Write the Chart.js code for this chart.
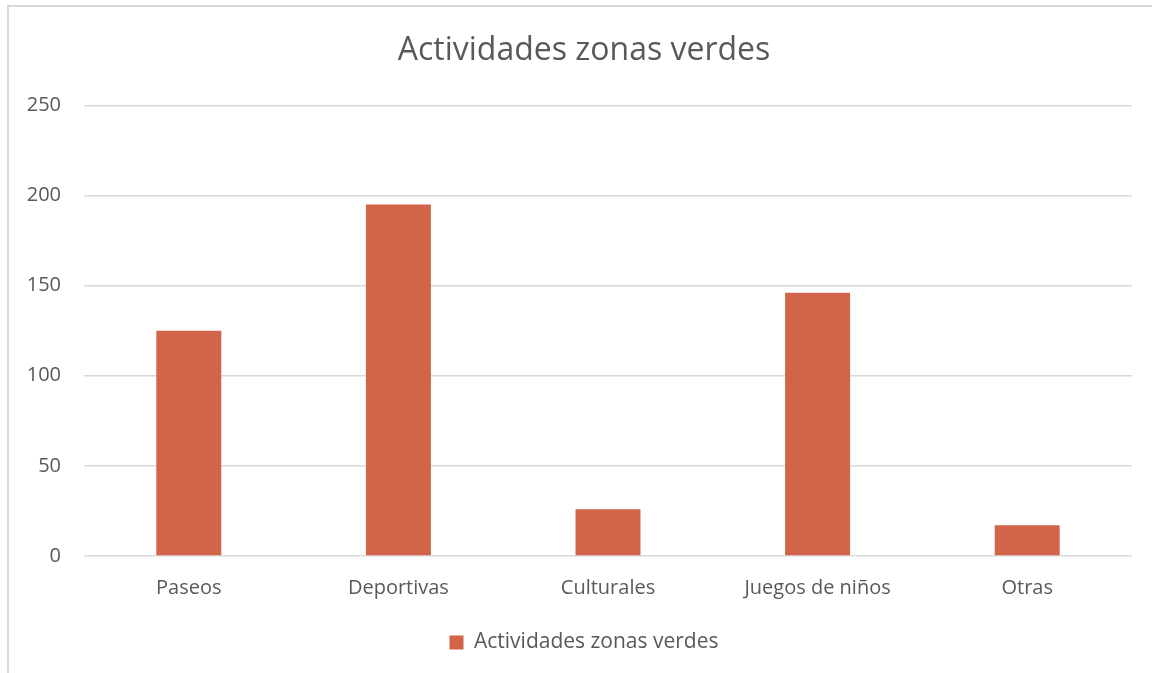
<!DOCTYPE html>
<html>
<head>
<meta charset="utf-8">
<script src="https://cdn.jsdelivr.net/npm/chart.js@4/dist/chart.umd.min.js"></script>
<style>
    html, body { margin: 0; padding: 0; background: #fff; overflow: hidden; }
    #frame {
        position: absolute; left: 7px; top: 5px;
        width: 1160px; height: 680px;
        border: 2px solid #d9d9d9; box-sizing: border-box;
    }
    #wrap { position: absolute; left: 2px; top: 2px; width: 1146px; height: 666px; }
</style>
</head>
<body>
<div id="frame"><div id="wrap"><canvas id="barChart"></canvas></div></div>
<script>
// Chart data
const categories = ['Paseos', 'Deportivas', 'Culturales', 'Juegos de niños', 'Otras'];
const seriesName = 'Actividades zonas verdes';
const values = [125, 195, 26, 146, 17];
const yTicks = [0, 50, 100, 150, 200, 250];

const textColor = '#595959';
const fontFamily = '"Open Sans", "Noto Sans", sans-serif';

function createBarChart() {
    const ctx = document.getElementById('barChart');
    if (!ctx) return;

    new Chart(ctx, {
        type: 'bar',
        data: {
            labels: categories,
            datasets: [{
                label: seriesName,
                data: values,
                backgroundColor: '#d2644a',
                categoryPercentage: 0.31,
                barPercentage: 1.0
            }]
        },
        options: {
            responsive: true,
            maintainAspectRatio: false,
            animation: false,
            layout: { padding: { left: 0, right: 0, top: 0, bottom: 12 } },
            plugins: {
                title: {
                    display: true,
                    text: seriesName,
                    color: textColor,
                    font: { family: fontFamily, size: 32, weight: 'normal' },
                    padding: { top: 23, bottom: 35 }
                },
                legend: {
                    position: 'bottom',
                    labels: {
                        color: textColor,
                        font: { family: fontFamily, size: 21 },
                        boxWidth: 14,
                        boxHeight: 14,
                        padding: 12
                    }
                },
                tooltip: { enabled: false }
            },
            scales: {
                x: {
                    grid: { display: false, drawTicks: false },
                    border: { display: false },
                    ticks: {
                        color: textColor,
                        font: { family: fontFamily, size: 20 },
                        padding: 20
                    }
                },
                y: {
                    min: 0,
                    max: 250,
                    afterBuildTicks: axis => { axis.ticks = yTicks.map(v => ({ value: v })); },
                    afterFit: axis => { axis.width = 73; },
                    grid: { color: '#d9d9d9', lineWidth: 1.5, drawTicks: false },
                    border: { display: false },
                    ticks: {
                        color: textColor,
                        font: { family: fontFamily, size: 20 },
                        padding: 23
                    }
                },
                // empty right-hand spacer so the title and legend sit where the original has them
                yRight: {
                    position: 'right',
                    grid: { display: false, drawTicks: false },
                    border: { display: false },
                    ticks: { display: false },
                    afterFit: axis => { axis.width = 25; }
                }
            }
        }
    });
}

document.addEventListener('DOMContentLoaded', createBarChart);
</script>
</body>
</html>
